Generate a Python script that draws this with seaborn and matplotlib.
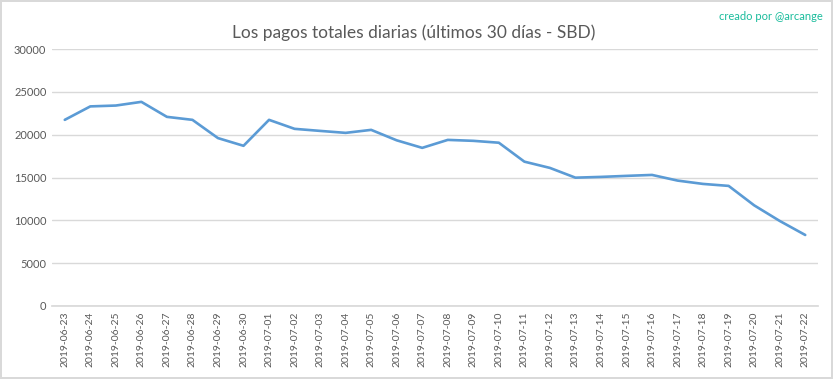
import matplotlib.pyplot as plt
import pandas as pd
import seaborn as sns

sns.set_theme(style="white")
plt.rcParams["font.family"] = ["Lato", "DejaVu Sans"]

fechas = [
    "2019-06-23", "2019-06-24", "2019-06-25", "2019-06-26", "2019-06-27",
    "2019-06-28", "2019-06-29", "2019-06-30", "2019-07-01", "2019-07-02",
    "2019-07-03", "2019-07-04", "2019-07-05", "2019-07-06", "2019-07-07",
    "2019-07-08", "2019-07-09", "2019-07-10", "2019-07-11", "2019-07-12",
    "2019-07-13", "2019-07-14", "2019-07-15", "2019-07-16", "2019-07-17",
    "2019-07-18", "2019-07-19", "2019-07-20", "2019-07-21", "2019-07-22",
]
pagos = [
    21730, 23300, 23400, 23830, 22080,
    21730, 19600, 18700, 21730, 20680,
    20440, 20210, 20560, 19340, 18460,
    19390, 19280, 19060, 16850, 16120,
    14980, 15070, 15190, 15300, 14640,
    14250, 14020, 11750, 9930, 8290,
]
y_ticks = [0, 5000, 10000, 15000, 20000, 25000, 30000]

df = pd.DataFrame({"fecha": fechas, "pagos": pagos})

gris = "#595959"
fig = plt.figure(figsize=(8.33, 3.79), dpi=100)
fig.patch.set_edgecolor("#D9D9D9")
fig.patch.set_linewidth(1.5)
ax = fig.add_axes([52 / 833, 1 - 306 / 379, 766 / 833, 257 / 379])

sns.lineplot(data=df, x="fecha", y="pagos", ax=ax, color="#5B9BD5", linewidth=1.9)

ax.set_xlim(-0.5, len(fechas) - 0.5)
ax.set_ylim(0, 30000)
ax.set_yticks(y_ticks)
ax.set_yticklabels([str(v) for v in y_ticks], fontsize=8, color=gris)
ax.set_xticks(range(len(fechas)))
ax.set_xticklabels(fechas, rotation=90, fontsize=7.5, color=gris)
ax.tick_params(axis="both", length=0, pad=4)
ax.grid(axis="y", color="#D9D9D9", linewidth=1)
ax.set_axisbelow(True)
for side in ["top", "right", "left"]:
    ax.spines[side].set_visible(False)
ax.spines["bottom"].set_color("#D9D9D9")
ax.set_xlabel("")
ax.set_ylabel("")

fig.text(0.497, 1 - 33 / 379, "Los pagos totales diarias (últimos 30 días - SBD)",
         ha="center", va="center", fontsize=12.5, color=gris, fontweight="normal")
fig.text(823 / 833, 1 - 16 / 379, "creado por @arcange", ha="right", va="center",
         fontsize=8, color="#1ABC9C")

fig.savefig("out.png", dpi=100, facecolor="white", edgecolor=fig.patch.get_edgecolor())
